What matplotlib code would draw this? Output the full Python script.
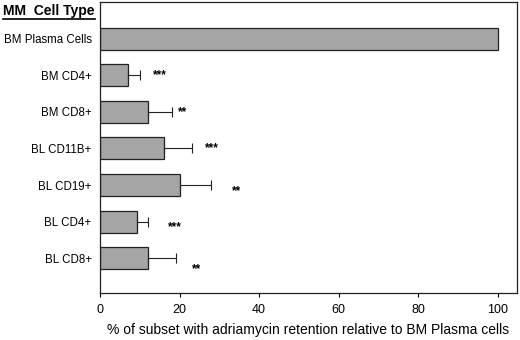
import matplotlib
matplotlib.use("Agg")
import matplotlib.pyplot as plt
from matplotlib.lines import Line2D

plt.rcParams['font.family'] = ['Liberation Sans', 'DejaVu Sans']

categories = ["BM Plasma Cells", "BM CD4+", "BM CD8+", "BL CD11B+", "BL CD19+", "BL CD4+", "BL CD8+"]
values = [100, 7, 12, 16, 20, 9.2, 12]
errors = [0, 3, 6, 7, 8, 2.8, 7]
stars = ["", "***", "**", "***", "**", "***", "**"]
star_x = [0, 13.3, 19.6, 26.4, 33.2, 17.1, 23.1]
star_dy = [0, 0.0, 0.0, 0.0, 0.17, 0.14, 0.3]
xticks = [0, 20, 40, 60, 80, 100]

fig = plt.figure(figsize=(5.2, 3.4), dpi=100)
ax = fig.add_axes([100/520, 1 - 293/340, 417/520, 291/340])

ypos = list(range(len(categories)))
ax.barh(ypos, values, height=0.6, color="#a5a5a5", edgecolor="#222222", linewidth=0.9, zorder=2)
for y, v, e in zip(ypos, values, errors):
    if e > 0:
        ax.errorbar([v], [y], xerr=[[0], [e]], fmt="none", ecolor="#222222",
                    elinewidth=0.8, capsize=3.5, capthick=0.8, zorder=3)
for y, s, sx, dy in zip(ypos, stars, star_x, star_dy):
    if s:
        ax.text(sx, y + dy, s, fontsize=8.5, fontweight="bold", va="center", ha="left")

ax.set_ylim(len(categories) - 0.05, -1.0)
ax.set_xlim(0, 104.8)
ax.set_yticks(ypos)
ax.set_yticklabels(categories, fontsize=8.3)
ax.tick_params(axis="y", length=0, pad=6)
ax.set_xticks(xticks)
ax.set_xticklabels([str(t) for t in xticks], fontsize=9)
ax.tick_params(axis="x", length=3, width=0.8, pad=5)
for sp in ax.spines.values():
    sp.set_linewidth(0.9)
    sp.set_color("#222222")
ax.set_xlabel("% of subset with adriamycin retention relative to BM Plasma cells", fontsize=10, labelpad=5)

t = fig.text(3/520, 1 - 11/340, "MM  Cell Type", fontsize=10, fontweight="bold", va="center", ha="left")
fig.canvas.draw()
bb = t.get_window_extent(fig.canvas.get_renderer())
x0, x1 = bb.x0 / fig.bbox.width, bb.x1 / fig.bbox.width
yl = (bb.y0 - 1.0) / fig.bbox.height
fig.add_artist(Line2D([x0, x1], [yl, yl], transform=fig.transFigure, color="black", linewidth=1.2))

fig.savefig("out.png", dpi=100)
